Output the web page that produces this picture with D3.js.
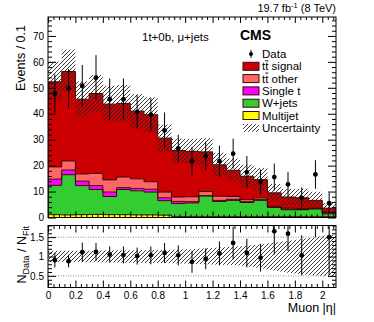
<!DOCTYPE html>
<html>
<head>
<meta charset="utf-8">
<script src="https://cdn.jsdelivr.net/npm/d3@7"></script>
<style>
  body { margin: 0; background: #fff; }
  text { font-family: "Liberation Sans", Arial, Helvetica, sans-serif; fill: #000; }
</style>
</head>
<body>
<svg id="chart" width="374" height="322"></svg>
<script>
// ── data ────────────────────────────────────────────────────────────────────
const binLow   = [0.0,0.1,0.2,0.3,0.4,0.5,0.6,0.7,0.8,0.9,1.0,1.1,1.2,1.3,1.4,1.5,1.6,1.7,1.8,1.9,2.0];
const binWidth = 0.1;

const multijet = [1.1,1.0,1.1,1.2,1.1,1.1,1.0,1.0,0.9,0.3,0.3,0.3,0.3,0.3,0.3,0.3,0.3,0.3,0.3,0.3,0.3];
const wJets    = [11.3,15.5,11.2,9.6,7.0,9.7,9.3,8.8,5.6,5.1,5.3,8.0,5.9,6.3,5.5,6.3,3.6,2.7,2.7,3.0,1.1];
const singleT  = [2.4,1.8,1.7,1.5,1.7,0.7,0.9,1.1,1.1,0.8,0.5,0.1,0.4,0.4,0.3,0.4,0.1,0.2,0.1,0.1,0.4];
const ttOther  = [4.7,3.5,2.8,4.7,4.7,4.1,3.7,2.9,2.2,1.7,1.9,1.6,1.6,1.1,0.8,0.6,0.3,0.4,0.3,0.2,0.2];
const ttSignal = [32.8,34.5,28.8,30.8,29.2,28.4,26.1,25.8,20.8,17.9,17.5,15.3,12.1,10.1,9.0,7.0,5.2,4.3,4.2,3.0,1.6];

const dataVal  = [47.8,49.8,50.8,53.9,45.6,45.6,40.7,39.7,33.6,26.6,21.7,23.7,21.7,24.6,17.5,13.7,15.6,12.8,7.6,16.6,5.5];
const dataErr  = [7.4,7.4,8.0,8.7,8.0,8.0,6.4,6.3,6.9,5.3,5.5,5.5,6.0,5.8,6.2,4.8,5.2,4.8,4.0,5.5,4.0];

// relative fit uncertainty (up / down)
const uncUp    = [0.15,0.15,0.15,0.15,0.16,0.16,0.16,0.17,0.17,0.18,0.19,0.21,0.23,0.25,0.28,0.31,0.36,0.40,0.45,0.50,0.56];
const uncDn    = [0.14,0.14,0.15,0.15,0.15,0.16,0.16,0.17,0.17,0.18,0.19,0.20,0.21,0.22,0.25,0.30,0.36,0.42,0.46,0.49,0.50];

const ratioVal = [0.905,0.88,1.11,1.12,1.05,1.04,1.01,1.03,1.09,1.03,0.86,0.94,1.08,1.35,1.09,0.97,1.65,1.59,1.03,2.45,1.5];
const ratioErr = [0.19,0.16,0.25,0.23,0.21,0.22,0.22,0.23,0.26,0.26,0.28,0.27,0.31,0.42,0.37,0.36,0.60,0.45,0.52,0.95,0.98];

const xTicks      = [0,0.2,0.4,0.6,0.8,1,1.2,1.4,1.6,1.8,2];
const yTicks      = [0,10,20,30,40,50,60,70];
const ratioTicks  = [0.5,1,1.5];

const layers = [
  { name: 'Multijet',     vals: multijet, fill: '#ffff00' },
  { name: 'W+jets',       vals: wJets,    fill: '#33cc33' },
  { name: 'Single t',     vals: singleT,  fill: '#ff00ff' },
  { name: 'tt other',     vals: ttOther,  fill: '#ff6666' },
  { name: 'tt signal',    vals: ttSignal, fill: '#cc0000' },
];

// ── layout ──────────────────────────────────────────────────────────────────
const L = 48, R = 336;
const topT = 17, topB = 217.5;
const ratT = 225.5, ratB = 287.5;

const x  = d3.scaleLinear().domain([0, 2.1]).range([L, R]);
const y  = d3.scaleLinear().domain([0, 77.3]).range([topB, topT]);
const yr = d3.scaleLinear().domain([0.2, 1.8]).range([ratB, ratT]);

const svg  = d3.select('#chart');
const defs = svg.append('defs');

const pat = defs.append('pattern').attr('id', 'hatch')
  .attr('patternUnits', 'userSpaceOnUse').attr('width', 4).attr('height', 4);
pat.append('path').attr('d', 'M-1,1 l2,-2 M0,4 l4,-4 M3,5 l2,-2')
  .attr('stroke', '#262626').attr('stroke-width', 0.9);

defs.append('clipPath').attr('id', 'clipTop').append('rect')
  .attr('x', L).attr('y', topT).attr('width', R - L).attr('height', topB - topT);
defs.append('clipPath').attr('id', 'clipRat').append('rect')
  .attr('x', L).attr('y', ratT).attr('width', R - L).attr('height', ratB - ratT);

// ── stacked histograms (step areas, no seams) ───────────────────────────────
const gTop = svg.append('g').attr('clip-path', 'url(#clipTop)');
const cum = binLow.map(() => 0);
const total = binLow.map((_, i) => layers.reduce((s, l) => s + l.vals[i], 0));

const stepArea = d3.area().x(d => x(d.x)).y0(d => y(d.lo)).y1(d => y(d.hi));
layers.forEach(layer => {
  const lo = cum.slice();
  layer.vals.forEach((v, i) => cum[i] += v);
  const pts = [];
  binLow.forEach((b, i) => {
    pts.push({ x: b, lo: lo[i], hi: cum[i] });
    pts.push({ x: b + binWidth, lo: lo[i], hi: cum[i] });
  });
  gTop.append('path').attr('d', stepArea(pts)).attr('fill', layer.fill);
  layer.top = cum.slice();
});
// outlines drawn after fills
const stepLine = d3.line();
layers.forEach(layer => {
  const pts = [[x(0), y(0)]];
  binLow.forEach((b, i) => {
    pts.push([x(b), y(layer.top[i])]);
    pts.push([x(b + binWidth), y(layer.top[i])]);
  });
  pts.push([x(2.1), y(0)]);
  gTop.append('path').attr('d', stepLine(pts))
    .attr('fill', 'none').attr('stroke', '#3a0808').attr('stroke-width', 1);
});

// uncertainty band (top)
gTop.append('g').selectAll('rect')
  .data(binLow)
  .join('rect')
  .attr('x', d => x(d))
  .attr('width', d => x(d + binWidth) - x(d))
  .attr('y', (d, i) => y(total[i] * (1 + uncUp[i])))
  .attr('height', (d, i) => y(total[i] * (1 - uncDn[i])) - y(total[i] * (1 + uncUp[i])))
  .attr('fill', 'url(#hatch)');

// data points (top)
const gData = gTop.append('g');
gData.selectAll('line')
  .data(binLow)
  .join('line')
  .attr('x1', d => x(d + binWidth / 2)).attr('x2', d => x(d + binWidth / 2))
  .attr('y1', (d, i) => y(dataVal[i] + dataErr[i]))
  .attr('y2', (d, i) => y(dataVal[i] - dataErr[i]))
  .attr('stroke', '#000').attr('stroke-width', 1);
gData.selectAll('circle')
  .data(binLow)
  .join('circle')
  .attr('cx', d => x(d + binWidth / 2))
  .attr('cy', (d, i) => y(dataVal[i]))
  .attr('r', 2.4).attr('fill', '#000');

// ── ratio panel ─────────────────────────────────────────────────────────────
const gRat = svg.append('g').attr('clip-path', 'url(#clipRat)');
[0.5, 1.5].forEach(v => {
  gRat.append('line')
    .attr('x1', L).attr('x2', R).attr('y1', yr(v)).attr('y2', yr(v))
    .attr('stroke', '#888').attr('stroke-width', 1).attr('stroke-dasharray', '1,1.5');
});

const bandPts = binLow.map((b, i) => ({ x: b + binWidth / 2, up: 1 + uncUp[i], dn: 1 - uncDn[i] }));
bandPts.unshift({ x: 0, up: bandPts[0].up, dn: bandPts[0].dn });
bandPts.push({ x: 2.1, up: bandPts[bandPts.length - 1].up, dn: bandPts[bandPts.length - 1].dn });
gRat.append('path')
  .attr('d', d3.area().x(d => x(d.x)).y0(d => yr(d.dn)).y1(d => yr(d.up))(bandPts))
  .attr('fill', 'url(#hatch)');

gRat.append('g').selectAll('line')
  .data(binLow)
  .join('line')
  .attr('x1', d => x(d + binWidth / 2)).attr('x2', d => x(d + binWidth / 2))
  .attr('y1', (d, i) => yr(ratioVal[i] + ratioErr[i]))
  .attr('y2', (d, i) => yr(ratioVal[i] - ratioErr[i]))
  .attr('stroke', '#000').attr('stroke-width', 1);
gRat.append('g').selectAll('circle')
  .data(binLow)
  .join('circle')
  .attr('cx', d => x(d + binWidth / 2))
  .attr('cy', (d, i) => yr(ratioVal[i]))
  .attr('r', 2.4).attr('fill', '#000');

// ── axes / ticks ────────────────────────────────────────────────────────────
function minors(from, to, step, skip) {
  const out = [];
  for (let v = from; v <= to + 1e-9; v += step) {
    const r = Math.round(v * 1000) / 1000;
    if (!skip.some(s => Math.abs(s - r) < 1e-6)) out.push(r);
  }
  return out;
}
function tickAxis(axisFn, scale, vals, size, pos, labels, fmt, pad) {
  const a = axisFn(scale).tickValues(vals).tickSize(size).tickPadding(pad || 3)
    .tickFormat(labels ? fmt : '');
  const g = svg.append('g').attr('transform', pos).call(a);
  g.select('.domain').remove();
  g.selectAll('.tick line').attr('stroke', '#000').attr('stroke-width', 1);
  g.selectAll('.tick text').style('font-size', '10px').style('font-family', '"Liberation Sans", Arial, sans-serif');
  return g;
}
const xMin = minors(0, 2.1, 0.04, xTicks);
const yMin = minors(0, 76, 2, yTicks);
const rMin = minors(0.3, 1.8, 0.1, ratioTicks);

// top panel
tickAxis(d3.axisLeft,   y, yTicks, -8, `translate(${L},0)`, true, d3.format('d'), 4);
tickAxis(d3.axisLeft,   y, yMin,   -4, `translate(${L},0)`, false);
tickAxis(d3.axisRight,  y, yTicks, -8, `translate(${R},0)`, false);
tickAxis(d3.axisRight,  y, yMin,   -4, `translate(${R},0)`, false);
tickAxis(d3.axisBottom, x, xTicks, -6, `translate(0,${topB})`, false);
tickAxis(d3.axisBottom, x, xMin,   -3, `translate(0,${topB})`, false);
tickAxis(d3.axisTop,    x, xTicks, -6, `translate(0,${topT})`, false);
tickAxis(d3.axisTop,    x, xMin,   -3, `translate(0,${topT})`, false);

// ratio panel
tickAxis(d3.axisLeft,   yr, ratioTicks, -8, `translate(${L},0)`, true, d => d, 4);
tickAxis(d3.axisLeft,   yr, rMin,       -4, `translate(${L},0)`, false);
tickAxis(d3.axisRight,  yr, ratioTicks, -8, `translate(${R},0)`, false);
tickAxis(d3.axisRight,  yr, rMin,       -4, `translate(${R},0)`, false);
tickAxis(d3.axisBottom, x, xTicks, -7, `translate(0,${ratB})`, true, d => d, 4);
tickAxis(d3.axisBottom, x, xMin,   -3.5, `translate(0,${ratB})`, false);
tickAxis(d3.axisTop,    x, xTicks, -7, `translate(0,${ratT})`, false);
tickAxis(d3.axisTop,    x, xMin,   -3.5, `translate(0,${ratT})`, false);

// frames
svg.append('rect').attr('x', L).attr('y', topT).attr('width', R - L).attr('height', topB - topT)
  .attr('fill', 'none').attr('stroke', '#000').attr('stroke-width', 1);
svg.append('rect').attr('x', L).attr('y', ratT).attr('width', R - L).attr('height', ratB - ratT)
  .attr('fill', 'none').attr('stroke', '#000').attr('stroke-width', 1);

// ── titles ──────────────────────────────────────────────────────────────────
svg.append('text').attr('transform', 'translate(25,25) rotate(-90)')
  .attr('text-anchor', 'end').style('font-size', '12.5px').text('Events / 0.1');

const ratTitle = svg.append('text').attr('transform', 'translate(26,226) rotate(-90)')
  .attr('text-anchor', 'end').style('font-size', '12.5px');
ratTitle.append('tspan').text('N');
ratTitle.append('tspan').attr('dy', 3).style('font-size', '9px').text('Data');
ratTitle.append('tspan').attr('dy', -3).text(' / N');
ratTitle.append('tspan').attr('dy', 3).style('font-size', '9px').text('Fit');

svg.append('text').attr('x', R).attr('y', 312).attr('text-anchor', 'end')
  .style('font-size', '12.5px').text('Muon |η|');

const lumi = svg.append('text').attr('x', R).attr('y', 12).attr('text-anchor', 'end')
  .style('font-size', '11px');
lumi.append('tspan').text('19.7 fb');
lumi.append('tspan').attr('dy', -4).style('font-size', '7.5px').text('-1');
lumi.append('tspan').attr('dy', 4).text(' (8 TeV)');

svg.append('text').attr('x', 142).attr('y', 41).style('font-size', '11.5px').text('1t+0b, μ+jets');
svg.append('text').attr('x', 240).attr('y', 40).style('font-size', '14px').style('font-weight', 'bold').text('CMS');

// ── legend ──────────────────────────────────────────────────────────────────
const legend = [
  { label: 'Data', kind: 'data' },
  { label: 'tt signal', kind: 'box', fill: '#cc0000', tt: true },
  { label: 'tt other', kind: 'box', fill: '#ff6666', tt: true },
  { label: 'Single t', kind: 'box', fill: '#ff00ff' },
  { label: 'W+jets', kind: 'box', fill: '#33cc33' },
  { label: 'Multijet', kind: 'box', fill: '#ffff00' },
  { label: 'Uncertainty', kind: 'hatch' },
];
const lg = svg.append('g');
legend.forEach((e, i) => {
  const cy = 54 + i * 12.3;
  if (e.kind === 'data') {
    lg.append('line').attr('x1', 251).attr('x2', 251).attr('y1', cy - 4).attr('y2', cy + 4)
      .attr('stroke', '#000');
    lg.append('circle').attr('cx', 251).attr('cy', cy).attr('r', 2).attr('fill', '#000');
  } else if (e.kind === 'box') {
    lg.append('rect').attr('x', 243).attr('y', cy - 4).attr('width', 16).attr('height', 8)
      .attr('fill', e.fill).attr('stroke', '#3a0808').attr('stroke-width', 1);
  } else {
    lg.append('rect').attr('x', 243).attr('y', cy - 4).attr('width', 16).attr('height', 8)
      .attr('fill', 'url(#hatch)');
  }
  const t = lg.append('text').attr('x', 262).attr('y', cy + 4).style('font-size', '11.5px').text(e.label);
  if (e.tt) {
    // bar over the second t (t-tbar)
    const n = t.node();
    const x0 = n.getStartPositionOfChar(1).x, x1 = n.getEndPositionOfChar(1).x;
    lg.append('line').attr('x1', x0).attr('x2', x1).attr('y1', cy - 5.5).attr('y2', cy - 5.5)
      .attr('stroke', '#000').attr('stroke-width', 0.9);
  }
});
</script>
</body>
</html>
